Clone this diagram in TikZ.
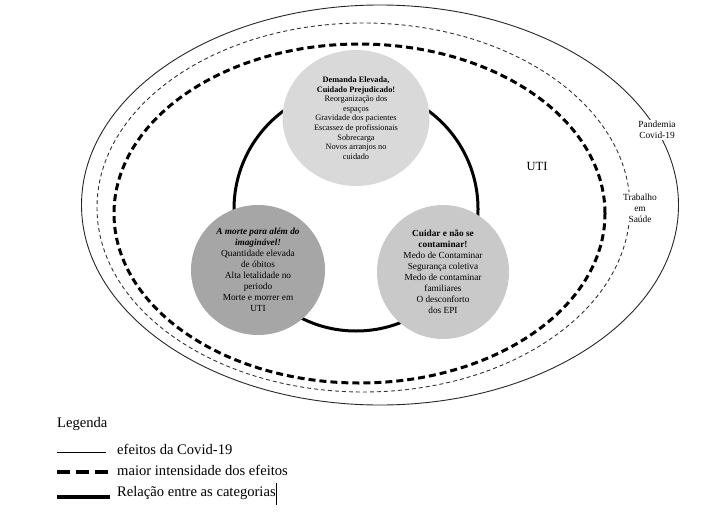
\documentclass[tikz,border=0pt]{standalone}
\usepackage{fontspec}
\setmainfont{Liberation Serif}
\usetikzlibrary{shapes.geometric}
\definecolor{cTop}{RGB}{217,217,217}
\definecolor{cLeft}{RGB}{166,166,166}
\definecolor{cRight}{RGB}{201,201,201}
\tikzset{
  outerline/.style={line width=0.9pt, draw=black!85},
  thindash/.style={line width=0.9pt, draw=black!80, dash pattern=on 4pt off 3pt},
  thickdash/.style={line width=3pt, draw=black, dash pattern=on 7pt off 4pt},
  ringline/.style={line width=3pt, draw=black},
  catnode/.style={ellipse, inner sep=0pt, align=center, text=black},
  smalltxt/.style={font=\fontsize{8.3}{9.6}\selectfont},
  midtxt/.style={font=\fontsize{9.3}{11}\selectfont},
  sidelabel/.style={fill=white, inner sep=1pt, align=center, font=\fontsize{9.4}{11}\selectfont},
  legtxt/.style={anchor=west, inner sep=0pt, font=\fontsize{14.6}{16}\selectfont},
}
\begin{document}
\begin{tikzpicture}[x=1pt,y=-1pt]
\useasboundingbox (0,0) rectangle (708,511);
% context ellipses
\draw[outerline] (380,205) ellipse [x radius=298.5pt, y radius=200pt];
\draw[thindash] (363.5,207.5) ellipse [x radius=266.5pt, y radius=184.5pt];
\draw[thickdash] (359.5,213.5) ellipse [x radius=245.5pt, y radius=169.5pt];
% relation ring
\coordinate (ringc) at (356,209);
\draw[ringline] (ringc) circle [radius=122pt];
% categories
\node[catnode, fill=cTop, minimum width=147pt, minimum height=136pt, smalltxt] (top) at (356,118)
  {\textbf{Demanda Elevada,}\\ \textbf{Cuidado Prejudicado!}\\ Reorganização dos\\ espaços\\ Gravidade dos pacientes\\ Escassez de profissionais\\ Sobrecarga\\ Novos arranjos no\\ cuidado};
\node[catnode, fill=cLeft, minimum width=134pt, minimum height=130pt, midtxt] (left) at (258,270)
  {\textbf{\textit{A morte para além do}}\\ \textbf{\textit{imaginável!}}\\ Quantidade elevada\\ de óbitos\\ Alta letalidade no\\ periodo\\ Morte e morrer em\\ UTI};
\node[catnode, fill=cRight, minimum width=132pt, minimum height=134pt, midtxt] (right) at (443,272)
  {\textbf{Cuidar e não se}\\ \textbf{contaminar!}\\ Medo de Contaminar\\ Segurança coletiva\\ Medo de contaminar\\ familiares\\ O desconforto\\ dos EPI};
% labels
\node[font=\fontsize{12.5}{14}\selectfont, inner sep=0pt] (uti) at (537,166) {UTI};
\node[sidelabel] (pand) at (657,130) {Pandemia\\ Covid-19};
\node[sidelabel, inner sep=2pt] (trab) at (640,208) {Trabalho\\ em\\ Saúde};
% legend
\node[legtxt] (leg) at (57,424) {Legenda};
\coordinate (l1a) at (57,452); \coordinate (l1b) at (106,452);
\coordinate (l2a) at (57,471.5); \coordinate (l2b) at (110,471.5);
\coordinate (l3a) at (57,496.5); \coordinate (l3b) at (110,496.5);
\draw[line width=1pt] (l1a) -- (l1b);
\draw[line width=4pt, dash pattern=on 13pt off 6pt] (l2a) -- (l2b);
\draw[line width=4pt] (l3a) -- (l3b);
\node[legtxt] (t1) at (117,449) {efeitos da Covid-19};
\node[legtxt] (t2) at (117,470.5) {maior intensidade dos efeitos};
\node[legtxt] (t3) at (117,493) {Relação entre as categorias};
\coordinate (cur1) at ([xshift=1pt]t3.east |- 0,483);
\coordinate (cur2) at ([xshift=1pt]t3.east |- 0,505);
\draw[line width=0.8pt] (cur1) -- (cur2);
\end{tikzpicture}
\end{document}
